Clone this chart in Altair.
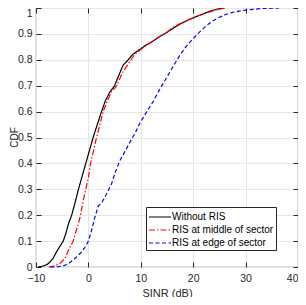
import altair as alt
import pandas as pd

series_names = ["Without RIS", "RIS at middle of sector", "RIS at edge of sector"]

no_ris_x = [-9.6, -9.0, -8.3, -7.8, -7.3, -6.7, -6.1, -5.5, -4.8, -4.3, -3.8, -3.2, -2.6, -1.9,
            -1.2, -0.5, 0.2, 0.9, 1.7, 2.5, 3.2, 4.1, 5.0, 5.8, 6.6, 7.6, 8.5, 9.8, 11.0, 12.3,
            13.6, 14.9, 16.2, 17.4, 19.0, 20.5, 22.0, 23.2, 24.5, 25.5]
no_ris_cdf = [0, 0.002, 0.006, 0.011, 0.02, 0.035, 0.058, 0.078, 0.1, 0.13, 0.167, 0.2, 0.244, 0.3,
              0.35, 0.4, 0.45, 0.5, 0.55, 0.6, 0.64, 0.676, 0.7, 0.74, 0.778, 0.8, 0.822, 0.84, 0.857, 0.872,
              0.89, 0.905, 0.922, 0.937, 0.953, 0.966, 0.978, 0.988, 0.995, 1.0]

mid_x = [-7.6, -7.0, -6.2, -5.4, -4.5, -3.9, -3.3, -2.9, -2.4, -1.9, -1.5, -1.0, -0.5, 0.0,
         0.4, 1.0, 1.55, 2.2, 2.8, 3.6, 4.4, 5.4, 6.5, 7.8, 8.8, 10.0, 11.2, 12.3, 13.6, 14.9,
         16.1, 17.5, 18.8, 19.9, 21.2, 22.4, 23.4, 24.6, 26.1]
mid_cdf = [0, 0.002, 0.006, 0.014, 0.033, 0.06, 0.085, 0.1, 0.135, 0.167, 0.2, 0.256, 0.3, 0.345,
           0.4, 0.45, 0.5, 0.55, 0.6, 0.64, 0.676, 0.7, 0.75, 0.79, 0.82, 0.84, 0.857, 0.872, 0.89, 0.905,
           0.925, 0.94, 0.952, 0.962, 0.972, 0.98, 0.987, 0.994, 1.0]

edge_x = [-7.3, -6.0, -4.8, -3.8, -2.9, -2.2, -1.3, -0.6, 0.0, 0.6, 1.2, 1.9, 2.6, 3.4, 4.4,
          5.2, 6.0, 7.0, 8.0, 9.0, 9.8, 11.0, 12.3, 13.5, 14.8, 16.1, 17.4, 18.6, 19.9, 21.1,
          22.4, 23.6, 24.8, 26.2, 27.5, 29.0, 30.1, 31.5, 33.2, 34.8, 36.4]
edge_cdf = [0, 0.001, 0.004, 0.013, 0.027, 0.04, 0.058, 0.078, 0.1, 0.141, 0.19, 0.235, 0.25, 0.28, 0.32,
            0.37, 0.41, 0.447, 0.485, 0.52, 0.555, 0.595, 0.637, 0.682, 0.727, 0.772, 0.816, 0.85, 0.88, 0.905,
            0.93, 0.948, 0.962, 0.975, 0.983, 0.989, 0.992, 0.995, 0.998, 0.999, 1.0]

x_ticks = [-10, 0, 10, 20, 30, 40]
y_ticks = [0, 0.1, 0.2, 0.3, 0.4, 0.5, 0.6, 0.7, 0.8, 0.9, 1]

rows = []
for name, xs, ys in [(series_names[0], no_ris_x, no_ris_cdf),
                     (series_names[1], mid_x, mid_cdf),
                     (series_names[2], edge_x, edge_cdf)]:
    for i, (a, b) in enumerate(zip(xs, ys)):
        rows.append({"series": name, "sinr": a, "cdf": b, "i": i})
df = pd.DataFrame(rows)

FONT = "Liberation Sans"
TXT = "#262626"
GRID = "#e6e6e6"

color_scale = alt.Scale(domain=series_names, range=["#000000", "#ff0000", "#0000ff"])
dash_scale = alt.Scale(domain=series_names, range=[[1, 0], [6, 2, 1.5, 2], [4, 2.5]])

legend = alt.Legend(title=None, orient="none", legendX=110, legendY=199,
                    symbolType="M-1.57,0H1.57", symbolSize=196, symbolStrokeWidth=1.2,
                    symbolFillColor="transparent",
                    labelFont=FONT, labelFontSize=10, labelColor="#000000",
                    strokeColor=TXT, fillColor="white", padding=2,
                    rowPadding=0, labelOffset=4, symbolOffset=4)

x_axis = alt.Axis(values=x_ticks, orient="bottom", grid=True, gridColor=GRID, domain=False,
                  tickSize=alt.ExprRef("-5"), tickColor=TXT,
                  labelFont=FONT, labelFontSize=10.5, labelColor=TXT, labelPadding=11,
                  labelAlign={"condition": {"test": "datum.value == 40", "value": "right"}, "value": "center"},
                  title="SINR (dB)", titleFont=FONT, titleFontSize=11, titleColor=TXT,
                  titleFontWeight="normal", titleY=20)

y_axis = alt.Axis(values=y_ticks, orient="left", grid=True, gridColor=GRID, domain=False,
                  tickSize=alt.ExprRef("-5"), tickColor=TXT, format="~g",
                  labelFont=FONT, labelFontSize=10.5, labelColor=TXT, labelPadding=9,
                  labelBaseline={"condition": {"test": "datum.value == 1", "value": "top"}, "value": "middle"},
                  title="CDF", titleFont=FONT, titleFontSize=10, titleColor=TXT,
                  titleFontWeight="normal", titleX=-16.5, titleY=129)

x_top = alt.Axis(values=x_ticks, orient="top", grid=False, domain=False, labels=False,
                 tickSize=alt.ExprRef("-5"), tickColor=TXT, title=None)
y_right = alt.Axis(values=y_ticks, orient="right", grid=False, domain=False, labels=False,
                   tickSize=alt.ExprRef("-5"), tickColor=TXT, title=None)

xs = alt.Scale(domain=[-10, 40], nice=False)
ys = alt.Scale(domain=[0, 1], nice=False)

lines = alt.Chart(df).mark_line(strokeWidth=1.2).encode(
    x=alt.X("sinr:Q", scale=xs, axis=x_axis),
    y=alt.Y("cdf:Q", scale=ys, axis=y_axis),
    color=alt.Color("series:N", scale=color_scale, legend=legend),
    strokeDash=alt.StrokeDash("series:N", scale=dash_scale, legend=legend),
    order="i:Q",
)

frame_ticks = alt.Chart(df).mark_point(opacity=0).encode(
    x=alt.X("sinr:Q", scale=xs, axis=x_top),
    y=alt.Y("cdf:Q", scale=ys, axis=y_right),
)

chart = alt.layer(lines, frame_ticks).resolve_axis(
    x="independent", y="independent"
).properties(
    width=262, height=259,
    autosize=alt.AutoSizeParams(type="none"),
    padding={"left": 28, "top": 0, "right": 0, "bottom": 30},
    background="white",
).configure_view(stroke=TXT, strokeWidth=0.8)

chart.save("out.html", embed_options={"renderer": "svg", "actions": False})
